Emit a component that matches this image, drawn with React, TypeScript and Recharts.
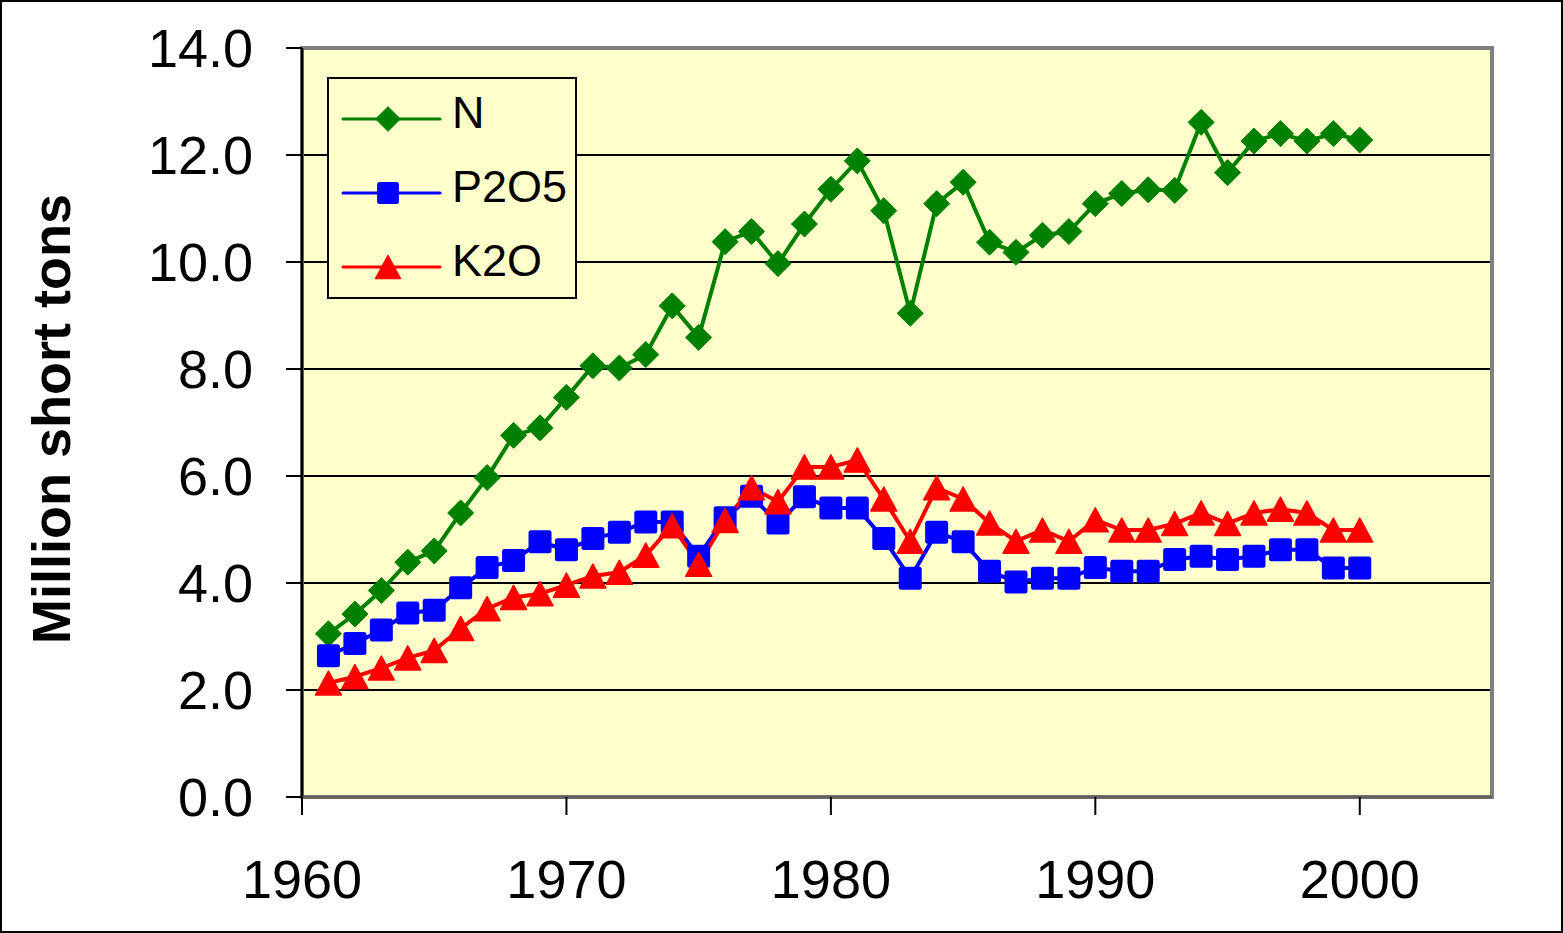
import React from "react";
import {
  LineChart,
  Line,
  XAxis,
  YAxis,
  CartesianGrid,
  Legend,
  ReferenceArea,
  Label,
} from "recharts";

const FONT = "'Liberation Sans', Arial, Helvetica, sans-serif";

const years = [
  1961, 1962, 1963, 1964, 1965, 1966, 1967, 1968, 1969, 1970,
  1971, 1972, 1973, 1974, 1975, 1976, 1977, 1978, 1979, 1980,
  1981, 1982, 1983, 1984, 1985, 1986, 1987, 1988, 1989, 1990,
  1991, 1992, 1993, 1994, 1995, 1996, 1997, 1998, 1999, 2000,
];

const nitrogen = [
  3.05, 3.42, 3.86, 4.39, 4.6, 5.31, 5.97, 6.76, 6.9, 7.47,
  8.06, 8.02, 8.27, 9.18, 8.59, 10.38, 10.57, 9.97, 10.71, 11.36,
  11.89, 10.96, 9.04, 11.09, 11.49, 10.37, 10.18, 10.5, 10.57, 11.09,
  11.28, 11.35, 11.34, 12.61, 11.67, 12.26, 12.4, 12.26, 12.4, 12.28,
];

const phosphate = [
  2.64, 2.87, 3.12, 3.44, 3.49, 3.91, 4.29, 4.42, 4.77, 4.62,
  4.83, 4.95, 5.14, 5.14, 4.5, 5.22, 5.62, 5.12, 5.61, 5.4,
  5.4, 4.83, 4.09, 4.95, 4.77, 4.22, 4.02, 4.09, 4.09, 4.29,
  4.22, 4.22, 4.44, 4.5, 4.44, 4.5, 4.62, 4.62, 4.28, 4.28,
];

const potash = [
  2.13, 2.25, 2.41, 2.6, 2.74, 3.15, 3.52, 3.73, 3.8, 3.96,
  4.13, 4.2, 4.52, 5.07, 4.35, 5.17, 5.78, 5.52, 6.17, 6.17,
  6.3, 5.57, 4.78, 5.78, 5.57, 5.12, 4.78, 4.99, 4.78, 5.18,
  4.99, 4.99, 5.11, 5.31, 5.11, 5.31, 5.38, 5.31, 4.99, 4.99,
];

const xTicks = [1960, 1970, 1980, 1990, 2000];
const yTicks = [0, 2, 4, 6, 8, 10, 12, 14];

const SERIES = [
  { key: "N", color: "#008000", shape: "diamond" },
  { key: "P2O5", color: "#0000FF", shape: "square" },
  { key: "K2O", color: "#FF0000", shape: "triangle" },
];

const data = years.map((year, i) => ({
  year,
  N: nitrogen[i],
  P2O5: phosphate[i],
  K2O: potash[i],
}));

function Marker({
  shape,
  cx,
  cy,
  color,
  s = 1,
}: {
  shape: string;
  cx: number;
  cy: number;
  color: string;
  s?: number;
}) {
  if (cx == null || cy == null) return null;
  if (shape === "diamond") {
    const h = 13 * s;
    return (
      <polygon
        points={`${cx},${cy - h} ${cx + h},${cy} ${cx},${cy + h} ${cx - h},${cy}`}
        fill={color}
        stroke={color}
        strokeWidth={1}
        strokeLinejoin="round"
      />
    );
  }
  if (shape === "square") {
    const h = 11.5 * s;
    return <rect x={cx - h} y={cy - h} width={2 * h} height={2 * h} rx={2.5} fill={color} />;
  }
  const w = 13 * s;
  const h = 12 * s;
  return (
    <polygon
      points={`${cx},${cy - h} ${cx + w},${cy + h} ${cx - w},${cy + h}`}
      fill={color}
      stroke={color}
      strokeWidth={1.5}
      strokeLinejoin="round"
    />
  );
}

function renderLegend() {
  return (
    <svg width={250} height={222} style={{ display: "block" }}>
      <rect x={1} y={1} width={248} height={220} fill="#FFFFCC" stroke="#000" strokeWidth={2} />
      {SERIES.map((s, i) => {
        const cy = 42 + i * 74;
        return (
          <g key={s.key}>
            <line x1={16} x2={113} y1={cy} y2={cy} stroke={s.color} strokeWidth={3} strokeLinecap="round" />
            <Marker shape={s.shape} cx={61} cy={cy} color={s.color} s={0.95} />
            <text x={125} y={cy - 6.5} dy="0.355em" fontSize={45} fontFamily={FONT} fill="#000">
              {s.key}
            </text>
          </g>
        );
      })}
    </svg>
  );
}

function AxisTitle() {
  return (
    <text
      x={70}
      y={419}
      transform="rotate(-90, 70, 419)"
      textAnchor="middle"
      fontSize={54}
      fontWeight="bold"
      fontFamily={FONT}
      fill="#000"
    >
      Million short tons
    </text>
  );
}

export default function App() {
  return (
    <div style={{ position: "absolute", left: 0, top: 0, width: 1563, height: 933, background: "#fff" }}>
      <LineChart
        width={1563}
        height={933}
        data={data}
        margin={{ top: 48, right: 71, bottom: 0, left: 0 }}
      >
        <CartesianGrid
          horizontal
          vertical={false}
          fill="#FFFFCC"
          stroke="#000"
          strokeWidth={2}
          strokeOpacity={1}
        />
        <ReferenceArea
          x1={1960}
          x2={2005}
          y1={0}
          y2={14}
          fill="none"
          fillOpacity={0}
          stroke="#808080"
          strokeWidth={4}
          strokeOpacity={1}
        />
        <XAxis
          dataKey="year"
          type="number"
          domain={[1960, 2005]}
          ticks={xTicks}
          height={136}
          tickSize={18}
          tickMargin={45}
          axisLine={{ stroke: "#606060", strokeWidth: 3 }}
          tickLine={{ stroke: "#000", strokeWidth: 2 }}
          tick={{ fontSize: 54, fill: "#000", fontFamily: FONT }}
          interval={0}
        />
        <YAxis
          type="number"
          domain={[0, 14]}
          ticks={yTicks}
          width={302}
          tickSize={16}
          tickMargin={33}
          axisLine={{ stroke: "#000", strokeWidth: 2.5 }}
          tickLine={{ stroke: "#000", strokeWidth: 2 }}
          tick={{ fontSize: 54, fill: "#000", fontFamily: FONT }}
          tickFormatter={(v: number) => v.toFixed(1)}
          interval={0}
        >
          <Label content={<AxisTitle />} />
        </YAxis>
        <Legend
          layout="horizontal"
          verticalAlign="middle"
          align="center"
          content={renderLegend}
          wrapperStyle={{ position: "absolute", left: 327, top: 77, width: 250, height: 222 }}
        />
        {SERIES.map((s) => (
          <Line
            key={s.key}
            dataKey={s.key}
            name={s.key}
            stroke={s.color}
            strokeWidth={4}
            isAnimationActive={false}
            dot={(p: any) => (
              <Marker key={`${s.key}-${p.index}`} shape={s.shape} cx={p.cx} cy={p.cy} color={s.color} />
            )}
            activeDot={false}
          />
        ))}
      </LineChart>
      <div
        style={{
          position: "absolute",
          left: 0,
          top: 0,
          width: 1563,
          height: 933,
          boxSizing: "border-box",
          border: "2px solid #000",
          pointerEvents: "none",
        }}
      />
    </div>
  );
}
